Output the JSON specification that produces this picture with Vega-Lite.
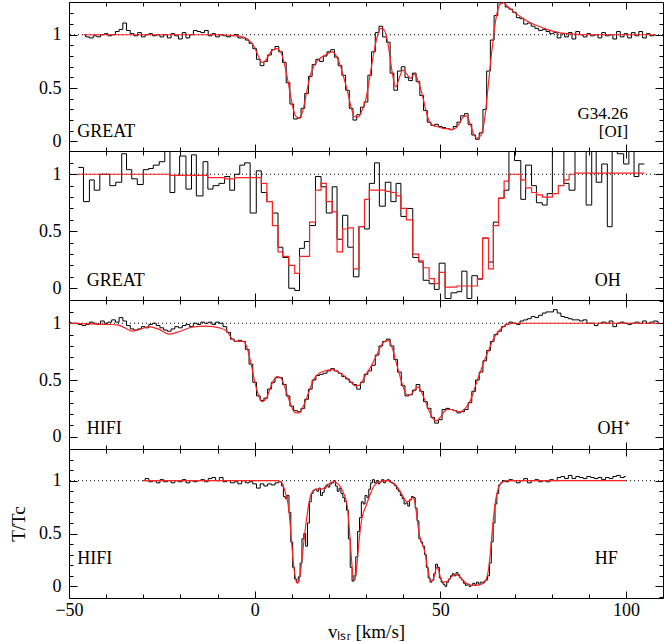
{
"$schema":"https://vega.github.io/schema/vega-lite/v6.json",
"padding":{"left":9,"top":1,"right":1,"bottom":2},
"spacing":0,
"bounds":"flush",
"config":{
 "view":{"stroke":"#000","strokeWidth":1},
 "axis":{"domain":false,"grid":false,"tickColor":"#000","tickWidth":1,"labelColor":"#000","titleColor":"#000","labelFont":"Liberation Serif","labelFontSize":18,"titleFont":"Liberation Serif","titleFontSize":19,"titleFontWeight":"normal","minExtent":0},
 "text":{"font":"Liberation Serif","fontSize":18,"color":"#000"}
},
"datasets":{
"o1":[{"v":-46,"t":1.0},{"v":-45,"t":0.98},{"v":-44,"t":0.97},{"v":-43,"t":0.99},{"v":-42,"t":0.98},{"v":-41,"t":1.0},{"v":-40,"t":1.01},{"v":-39,"t":0.99},{"v":-38,"t":1.0},{"v":-37,"t":1.03},{"v":-36,"t":1.05},{"v":-35,"t":1.11},{"v":-34,"t":1.04},{"v":-33,"t":1.01},{"v":-32,"t":0.99},{"v":-31,"t":1.02},{"v":-30,"t":0.98},{"v":-29,"t":1.0},{"v":-28,"t":1.01},{"v":-27,"t":0.99},{"v":-26,"t":1.0},{"v":-25,"t":0.98},{"v":-24,"t":1.0},{"v":-23,"t":0.97},{"v":-22,"t":1.01},{"v":-21,"t":0.99},{"v":-20,"t":0.96},{"v":-19,"t":1.02},{"v":-18,"t":0.97},{"v":-17,"t":1.0},{"v":-16,"t":1.04},{"v":-15,"t":1.03},{"v":-14,"t":1.02},{"v":-13,"t":1.04},{"v":-12,"t":0.99},{"v":-11,"t":1.01},{"v":-10,"t":0.98},{"v":-9,"t":1.0},{"v":-8,"t":0.99},{"v":-7,"t":0.98},{"v":-6,"t":0.99},{"v":-5,"t":1.0},{"v":-4,"t":0.97},{"v":-3,"t":0.97},{"v":-2,"t":0.95},{"v":-1,"t":0.92},{"v":0,"t":0.87},{"v":1,"t":0.77},{"v":2,"t":0.71},{"v":3,"t":0.75},{"v":4,"t":0.81},{"v":5,"t":0.86},{"v":6,"t":0.89},{"v":7,"t":0.84},{"v":8,"t":0.74},{"v":9,"t":0.55},{"v":10,"t":0.35},{"v":11,"t":0.21},{"v":12,"t":0.22},{"v":13,"t":0.31},{"v":14,"t":0.45},{"v":15,"t":0.61},{"v":16,"t":0.72},{"v":17,"t":0.77},{"v":18,"t":0.75},{"v":19,"t":0.8},{"v":20,"t":0.84},{"v":21,"t":0.86},{"v":22,"t":0.79},{"v":23,"t":0.71},{"v":24,"t":0.62},{"v":25,"t":0.48},{"v":26,"t":0.31},{"v":27,"t":0.2},{"v":28,"t":0.25},{"v":29,"t":0.32},{"v":30,"t":0.37},{"v":31,"t":0.62},{"v":32,"t":0.84},{"v":33,"t":1.02},{"v":34,"t":1.08},{"v":35,"t":0.98},{"v":36,"t":0.93},{"v":37,"t":0.64},{"v":38,"t":0.48},{"v":39,"t":0.66},{"v":40,"t":0.7},{"v":41,"t":0.6},{"v":42,"t":0.57},{"v":43,"t":0.64},{"v":44,"t":0.56},{"v":45,"t":0.43},{"v":46,"t":0.29},{"v":47,"t":0.18},{"v":48,"t":0.15},{"v":49,"t":0.16},{"v":50,"t":0.14},{"v":51,"t":0.13},{"v":52,"t":0.12},{"v":53,"t":0.11},{"v":54,"t":0.14},{"v":55,"t":0.18},{"v":56,"t":0.24},{"v":57,"t":0.26},{"v":58,"t":0.16},{"v":59,"t":0.06},{"v":60,"t":0.02},{"v":61,"t":0.08},{"v":62,"t":0.3},{"v":63,"t":0.66},{"v":64,"t":0.95},{"v":65,"t":1.18},{"v":66,"t":1.3},{"v":67,"t":1.3},{"v":68,"t":1.26},{"v":69,"t":1.24},{"v":70,"t":1.21},{"v":71,"t":1.16},{"v":72,"t":1.15},{"v":73,"t":1.1},{"v":74,"t":1.11},{"v":75,"t":1.08},{"v":76,"t":1.06},{"v":77,"t":1.04},{"v":78,"t":1.05},{"v":79,"t":1.03},{"v":80,"t":1.01},{"v":81,"t":1.02},{"v":82,"t":0.97},{"v":83,"t":1.01},{"v":84,"t":0.98},{"v":85,"t":1.02},{"v":86,"t":0.96},{"v":87,"t":1.03},{"v":88,"t":1.0},{"v":89,"t":0.98},{"v":90,"t":1.01},{"v":91,"t":0.99},{"v":92,"t":1.0},{"v":93,"t":0.97},{"v":94,"t":1.02},{"v":95,"t":0.99},{"v":96,"t":1.0},{"v":97,"t":0.96},{"v":98,"t":1.03},{"v":99,"t":0.98},{"v":100,"t":1.01},{"v":101,"t":0.97},{"v":102,"t":1.02},{"v":103,"t":0.99},{"v":104,"t":1.03},{"v":105,"t":0.97},{"v":106,"t":1.01},{"v":107,"t":0.99},{"v":108,"t":1.0}],
"m1":[{"v":-46,"t":1.0},{"v":-30,"t":1.0},{"v":-10,"t":1.0},{"v":-6,"t":0.995},{"v":-4,"t":0.985},{"v":-2,"t":0.96},{"v":-1,"t":0.93},{"v":0,"t":0.88},{"v":1,"t":0.8},{"v":2,"t":0.74},{"v":3,"t":0.76},{"v":4,"t":0.82},{"v":5,"t":0.86},{"v":6,"t":0.87},{"v":7,"t":0.84},{"v":8,"t":0.73},{"v":9,"t":0.56},{"v":10,"t":0.37},{"v":11,"t":0.24},{"v":12,"t":0.22},{"v":13,"t":0.29},{"v":14,"t":0.46},{"v":15,"t":0.62},{"v":16,"t":0.71},{"v":17,"t":0.76},{"v":18,"t":0.79},{"v":19,"t":0.81},{"v":20,"t":0.83},{"v":21,"t":0.84},{"v":22,"t":0.8},{"v":23,"t":0.72},{"v":24,"t":0.6},{"v":25,"t":0.47},{"v":26,"t":0.32},{"v":27,"t":0.23},{"v":28,"t":0.23},{"v":29,"t":0.3},{"v":30,"t":0.4},{"v":31,"t":0.6},{"v":32,"t":0.81},{"v":33,"t":0.98},{"v":34,"t":1.06},{"v":35,"t":1.04},{"v":36,"t":0.9},{"v":37,"t":0.66},{"v":38,"t":0.51},{"v":39,"t":0.6},{"v":40,"t":0.67},{"v":41,"t":0.63},{"v":42,"t":0.59},{"v":43,"t":0.63},{"v":44,"t":0.57},{"v":45,"t":0.46},{"v":46,"t":0.31},{"v":47,"t":0.19},{"v":48,"t":0.15},{"v":49,"t":0.14},{"v":50,"t":0.13},{"v":51,"t":0.12},{"v":52,"t":0.12},{"v":53,"t":0.11},{"v":54,"t":0.12},{"v":55,"t":0.16},{"v":56,"t":0.22},{"v":57,"t":0.24},{"v":58,"t":0.17},{"v":59,"t":0.07},{"v":60,"t":0.03},{"v":61,"t":0.06},{"v":62,"t":0.22},{"v":63,"t":0.55},{"v":64,"t":0.88},{"v":65,"t":1.15},{"v":66,"t":1.28},{"v":67,"t":1.3},{"v":68,"t":1.27},{"v":70,"t":1.21},{"v":72,"t":1.16},{"v":75,"t":1.1},{"v":78,"t":1.06},{"v":82,"t":1.02},{"v":86,"t":1.005},{"v":90,"t":1.0},{"v":108,"t":1.0}],
"o2":[{"v":-47.5,"t":1.06},{"v":-46.1,"t":0.76},{"v":-44.5,"t":0.95},{"v":-43.2,"t":0.86},{"v":-41.7,"t":1.0},{"v":-39.0,"t":0.9},{"v":-37.4,"t":0.93},{"v":-35.8,"t":1.18},{"v":-34.5,"t":1.04},{"v":-33.1,"t":0.96},{"v":-31.6,"t":0.91},{"v":-30.0,"t":1.04},{"v":-28.6,"t":1.05},{"v":-27.3,"t":1.08},{"v":-25.7,"t":1.11},{"v":-24.2,"t":1.3},{"v":-22.8,"t":0.84},{"v":-21.5,"t":0.99},{"v":-20.2,"t":1.16},{"v":-18.5,"t":0.87},{"v":-17.0,"t":1.17},{"v":-15.7,"t":0.81},{"v":-13.9,"t":1.11},{"v":-12.6,"t":0.87},{"v":-11.2,"t":0.9},{"v":-9.6,"t":0.92},{"v":-8.1,"t":0.98},{"v":-6.7,"t":0.86},{"v":-5.4,"t":1.0},{"v":-4.0,"t":1.08},{"v":-2.7,"t":1.1},{"v":-1.2,"t":0.66},{"v":0.45,"t":1.03},{"v":1.8,"t":0.84},{"v":3.3,"t":0.76},{"v":4.8,"t":0.66},{"v":6.3,"t":0.36},{"v":7.6,"t":0.27},{"v":9.2,"t":0.0},{"v":10.8,"t":-0.02},{"v":12.1,"t":0.35},{"v":13.4,"t":0.41},{"v":14.8,"t":0.55},{"v":16.4,"t":0.98},{"v":17.9,"t":0.89},{"v":19.3,"t":0.66},{"v":20.9,"t":0.89},{"v":22.2,"t":0.43},{"v":23.7,"t":0.64},{"v":25.1,"t":0.36},{"v":26.6,"t":0.1},{"v":28.1,"t":0.54},{"v":29.6,"t":0.52},{"v":30.9,"t":0.92},{"v":32.3,"t":1.1},{"v":33.6,"t":0.72},{"v":35.2,"t":0.93},{"v":36.7,"t":0.76},{"v":38.1,"t":0.92},{"v":39.4,"t":0.63},{"v":40.9,"t":0.7},{"v":42.6,"t":0.27},{"v":44.2,"t":0.23},{"v":45.4,"t":0.07},{"v":47.0,"t":0.04},{"v":48.4,"t":-0.01},{"v":49.7,"t":0.22},{"v":51.3,"t":-0.09},{"v":52.9,"t":-0.04},{"v":54.5,"t":-0.03},{"v":55.8,"t":0.15},{"v":57.2,"t":-0.09},{"v":58.5,"t":0.11},{"v":60.0,"t":0.08},{"v":61.4,"t":0.44},{"v":63.0,"t":0.23},{"v":64.3,"t":0.58},{"v":65.7,"t":0.79},{"v":67.2,"t":0.86},{"v":68.5,"t":1.3},{"v":70.0,"t":1.12},{"v":71.7,"t":0.78},{"v":73.0,"t":1.08},{"v":74.6,"t":0.9},{"v":75.9,"t":0.75},{"v":77.5,"t":0.73},{"v":78.8,"t":0.83},{"v":80.2,"t":1.3},{"v":81.8,"t":1.3},{"v":83.3,"t":0.92},{"v":84.7,"t":0.86},{"v":86.3,"t":1.2},{"v":87.8,"t":1.3},{"v":89.3,"t":0.73},{"v":90.8,"t":1.3},{"v":92.0,"t":0.93},{"v":93.5,"t":1.09},{"v":95.0,"t":0.54},{"v":96.3,"t":1.3},{"v":97.7,"t":1.18},{"v":99.4,"t":1.09},{"v":100.8,"t":1.3},{"v":102.2,"t":0.98},{"v":103.5,"t":1.09},{"v":105.0,"t":1.09}],
"m2":[{"v":-47.5,"t":1.0},{"v":-22.8,"t":0.99},{"v":-12.6,"t":0.97},{"v":-8.1,"t":0.96},{"v":-5.4,"t":0.97},{"v":0.45,"t":0.97},{"v":1.8,"t":0.92},{"v":3.3,"t":0.76},{"v":4.8,"t":0.55},{"v":6.3,"t":0.32},{"v":7.6,"t":0.28},{"v":9.2,"t":0.2},{"v":10.8,"t":0.13},{"v":12.1,"t":0.28},{"v":13.4,"t":0.28},{"v":14.8,"t":0.58},{"v":16.4,"t":0.86},{"v":17.9,"t":0.92},{"v":19.3,"t":0.76},{"v":20.9,"t":0.67},{"v":22.2,"t":0.32},{"v":23.7,"t":0.52},{"v":25.1,"t":0.53},{"v":26.6,"t":0.17},{"v":28.1,"t":0.54},{"v":29.6,"t":0.78},{"v":30.9,"t":0.86},{"v":32.3,"t":0.86},{"v":33.6,"t":0.86},{"v":35.2,"t":0.85},{"v":36.7,"t":0.84},{"v":38.1,"t":0.81},{"v":39.4,"t":0.7},{"v":40.9,"t":0.6},{"v":42.6,"t":0.3},{"v":44.2,"t":0.24},{"v":45.4,"t":0.18},{"v":47.0,"t":0.085},{"v":48.4,"t":0.04},{"v":49.7,"t":0.14},{"v":51.3,"t":0.01},{"v":52.9,"t":0.01},{"v":54.5,"t":0.02},{"v":55.8,"t":0.02},{"v":57.2,"t":0.02},{"v":58.5,"t":0.02},{"v":60.0,"t":0.085},{"v":61.4,"t":0.44},{"v":63.0,"t":0.17},{"v":64.3,"t":0.55},{"v":65.7,"t":0.79},{"v":67.2,"t":0.94},{"v":68.5,"t":1.0},{"v":70.0,"t":1.0},{"v":71.7,"t":0.95},{"v":73.0,"t":0.88},{"v":74.6,"t":0.84},{"v":75.9,"t":0.82},{"v":77.5,"t":0.8},{"v":78.8,"t":0.8},{"v":80.2,"t":0.83},{"v":81.8,"t":0.9},{"v":83.3,"t":0.95},{"v":84.7,"t":1.0},{"v":86.3,"t":1.01},{"v":105.0,"t":1.01}],
"o3":[{"v":-50,"t":1.01},{"v":-49,"t":1.0},{"v":-48,"t":1.0},{"v":-47,"t":0.99},{"v":-46,"t":0.98},{"v":-45,"t":0.99},{"v":-44,"t":1.01},{"v":-43,"t":1.0},{"v":-42,"t":0.99},{"v":-41,"t":1.02},{"v":-40,"t":1.0},{"v":-39,"t":1.01},{"v":-38,"t":1.03},{"v":-37,"t":1.01},{"v":-36,"t":1.05},{"v":-35,"t":1.02},{"v":-34,"t":0.98},{"v":-33,"t":0.95},{"v":-32,"t":0.94},{"v":-31,"t":0.95},{"v":-30,"t":0.97},{"v":-29,"t":0.96},{"v":-28,"t":0.99},{"v":-27,"t":1.0},{"v":-26,"t":0.98},{"v":-25,"t":0.96},{"v":-24,"t":0.94},{"v":-23,"t":0.93},{"v":-22,"t":0.95},{"v":-21,"t":0.97},{"v":-20,"t":0.96},{"v":-19,"t":0.98},{"v":-18,"t":0.99},{"v":-17,"t":0.97},{"v":-16,"t":1.0},{"v":-15,"t":0.99},{"v":-14,"t":1.01},{"v":-13,"t":1.0},{"v":-12,"t":1.01},{"v":-11,"t":0.99},{"v":-10,"t":1.01},{"v":-9,"t":1.0},{"v":-8,"t":0.97},{"v":-7,"t":0.92},{"v":-6,"t":0.86},{"v":-5,"t":0.84},{"v":-4,"t":0.85},{"v":-3,"t":0.84},{"v":-2,"t":0.77},{"v":-1,"t":0.64},{"v":0,"t":0.48},{"v":1,"t":0.36},{"v":2,"t":0.32},{"v":3,"t":0.34},{"v":4,"t":0.42},{"v":5,"t":0.48},{"v":6,"t":0.52},{"v":7,"t":0.52},{"v":8,"t":0.46},{"v":9,"t":0.36},{"v":10,"t":0.27},{"v":11,"t":0.23},{"v":12,"t":0.22},{"v":13,"t":0.25},{"v":14,"t":0.33},{"v":15,"t":0.42},{"v":16,"t":0.5},{"v":17,"t":0.54},{"v":18,"t":0.55},{"v":19,"t":0.56},{"v":20,"t":0.58},{"v":21,"t":0.6},{"v":22,"t":0.58},{"v":23,"t":0.56},{"v":24,"t":0.53},{"v":25,"t":0.51},{"v":26,"t":0.48},{"v":27,"t":0.46},{"v":28,"t":0.42},{"v":29,"t":0.48},{"v":30,"t":0.55},{"v":31,"t":0.58},{"v":32,"t":0.63},{"v":33,"t":0.72},{"v":34,"t":0.8},{"v":35,"t":0.84},{"v":36,"t":0.86},{"v":37,"t":0.8},{"v":38,"t":0.68},{"v":39,"t":0.57},{"v":40,"t":0.45},{"v":41,"t":0.36},{"v":42,"t":0.37},{"v":43,"t":0.41},{"v":44,"t":0.46},{"v":45,"t":0.4},{"v":46,"t":0.31},{"v":47,"t":0.25},{"v":48,"t":0.17},{"v":49,"t":0.12},{"v":50,"t":0.15},{"v":51,"t":0.24},{"v":52,"t":0.25},{"v":53,"t":0.24},{"v":54,"t":0.23},{"v":55,"t":0.21},{"v":56,"t":0.22},{"v":57,"t":0.24},{"v":58,"t":0.3},{"v":59,"t":0.4},{"v":60,"t":0.5},{"v":61,"t":0.57},{"v":62,"t":0.67},{"v":63,"t":0.76},{"v":64,"t":0.84},{"v":65,"t":0.9},{"v":66,"t":0.93},{"v":67,"t":0.97},{"v":68,"t":0.99},{"v":69,"t":1.01},{"v":70,"t":1.0},{"v":71,"t":0.99},{"v":72,"t":1.02},{"v":73,"t":1.03},{"v":74,"t":1.04},{"v":75,"t":1.06},{"v":76,"t":1.05},{"v":77,"t":1.07},{"v":78,"t":1.09},{"v":79,"t":1.1},{"v":80,"t":1.1},{"v":81,"t":1.12},{"v":82,"t":1.09},{"v":83,"t":1.06},{"v":84,"t":1.05},{"v":85,"t":1.04},{"v":86,"t":1.03},{"v":87,"t":1.03},{"v":88,"t":1.02},{"v":89,"t":1.03},{"v":90,"t":1.0},{"v":91,"t":1.0},{"v":92,"t":0.98},{"v":93,"t":1.0},{"v":94,"t":1.01},{"v":95,"t":1.0},{"v":96,"t":1.02},{"v":97,"t":0.97},{"v":98,"t":1.0},{"v":99,"t":1.01},{"v":100,"t":1.0},{"v":101,"t":0.99},{"v":102,"t":1.0},{"v":103,"t":1.01},{"v":104,"t":1.0},{"v":105,"t":1.02},{"v":106,"t":1.0},{"v":107,"t":1.01},{"v":108,"t":1.02},{"v":109,"t":1.01}],
"m3":[{"v":-50,"t":1.0},{"v":-44,"t":0.995},{"v":-40,"t":0.99},{"v":-37,"t":0.985},{"v":-35,"t":0.96},{"v":-33,"t":0.93},{"v":-31,"t":0.945},{"v":-28.5,"t":0.97},{"v":-26,"t":0.95},{"v":-23,"t":0.905},{"v":-20,"t":0.93},{"v":-17,"t":0.965},{"v":-13,"t":0.975},{"v":-9.5,"t":0.96},{"v":-7.5,"t":0.93},{"v":-6,"t":0.86},{"v":-5,"t":0.84},{"v":-3,"t":0.84},{"v":-2,"t":0.78},{"v":-1,"t":0.65},{"v":0,"t":0.49},{"v":1,"t":0.37},{"v":2,"t":0.31},{"v":3,"t":0.33},{"v":4,"t":0.41},{"v":5,"t":0.49},{"v":6,"t":0.53},{"v":7,"t":0.52},{"v":8,"t":0.45},{"v":9,"t":0.35},{"v":10,"t":0.26},{"v":11,"t":0.21},{"v":12,"t":0.21},{"v":13,"t":0.26},{"v":14,"t":0.34},{"v":15,"t":0.43},{"v":16,"t":0.51},{"v":17,"t":0.55},{"v":18,"t":0.57},{"v":19,"t":0.58},{"v":20,"t":0.59},{"v":21,"t":0.59},{"v":22,"t":0.58},{"v":23,"t":0.56},{"v":24,"t":0.54},{"v":25,"t":0.51},{"v":26,"t":0.48},{"v":27,"t":0.45},{"v":28,"t":0.45},{"v":29,"t":0.49},{"v":30,"t":0.55},{"v":31,"t":0.6},{"v":32,"t":0.66},{"v":33,"t":0.73},{"v":34,"t":0.8},{"v":35,"t":0.84},{"v":36,"t":0.85},{"v":37,"t":0.79},{"v":38,"t":0.67},{"v":39,"t":0.55},{"v":40,"t":0.44},{"v":41,"t":0.37},{"v":42,"t":0.37},{"v":43,"t":0.41},{"v":44,"t":0.44},{"v":45,"t":0.39},{"v":46,"t":0.31},{"v":47,"t":0.23},{"v":48,"t":0.16},{"v":49,"t":0.14},{"v":50,"t":0.17},{"v":51,"t":0.22},{"v":52,"t":0.24},{"v":53,"t":0.24},{"v":54,"t":0.23},{"v":55,"t":0.22},{"v":56,"t":0.23},{"v":57,"t":0.26},{"v":58,"t":0.31},{"v":59,"t":0.4},{"v":60,"t":0.5},{"v":61,"t":0.59},{"v":62,"t":0.68},{"v":63,"t":0.76},{"v":64,"t":0.84},{"v":65,"t":0.9},{"v":66,"t":0.94},{"v":67,"t":0.97},{"v":68,"t":0.99},{"v":70,"t":1.0},{"v":109,"t":1.0}],
"o4":[{"v":-30,"t":1.0},{"v":-29,"t":1.02},{"v":-28,"t":0.99},{"v":-27,"t":1.0},{"v":-26,"t":0.98},{"v":-25,"t":1.01},{"v":-24,"t":0.99},{"v":-23,"t":1.0},{"v":-22,"t":0.98},{"v":-21,"t":1.0},{"v":-20,"t":0.99},{"v":-19,"t":1.01},{"v":-18,"t":0.98},{"v":-17,"t":1.0},{"v":-16,"t":0.99},{"v":-15,"t":1.0},{"v":-14,"t":1.01},{"v":-13,"t":0.99},{"v":-12,"t":1.02},{"v":-11,"t":1.03},{"v":-10,"t":1.0},{"v":-9,"t":1.03},{"v":-8,"t":0.99},{"v":-7,"t":1.0},{"v":-6,"t":0.98},{"v":-5,"t":0.99},{"v":-4,"t":0.97},{"v":-3,"t":1.0},{"v":-2,"t":0.98},{"v":-1,"t":0.99},{"v":0,"t":0.97},{"v":1,"t":0.93},{"v":2,"t":0.97},{"v":3,"t":0.95},{"v":4,"t":0.97},{"v":5,"t":0.96},{"v":6,"t":0.98},{"v":7,"t":0.99},{"v":7.5,"t":0.95},{"v":8,"t":0.85},{"v":8.5,"t":0.83},{"v":9,"t":0.86},{"v":9.5,"t":0.7},{"v":10,"t":0.42},{"v":10.5,"t":0.18},{"v":11,"t":0.07},{"v":11.5,"t":0.04},{"v":12,"t":0.09},{"v":12.5,"t":0.22},{"v":13,"t":0.45},{"v":13.5,"t":0.5},{"v":14,"t":0.38},{"v":14.5,"t":0.6},{"v":15,"t":0.8},{"v":15.5,"t":0.88},{"v":16,"t":0.91},{"v":16.5,"t":0.92},{"v":17,"t":0.9},{"v":17.5,"t":0.93},{"v":18,"t":0.86},{"v":18.5,"t":0.89},{"v":19,"t":0.93},{"v":19.5,"t":0.96},{"v":20,"t":0.94},{"v":20.5,"t":0.97},{"v":21,"t":0.98},{"v":21.5,"t":1.0},{"v":22,"t":0.95},{"v":22.5,"t":0.9},{"v":23,"t":0.93},{"v":23.5,"t":0.88},{"v":24,"t":0.84},{"v":24.5,"t":0.8},{"v":25,"t":0.72},{"v":25.5,"t":0.45},{"v":26,"t":0.18},{"v":26.5,"t":0.05},{"v":27,"t":0.1},{"v":27.5,"t":0.28},{"v":28,"t":0.52},{"v":28.5,"t":0.65},{"v":29,"t":0.8},{"v":29.5,"t":0.78},{"v":30,"t":0.86},{"v":30.5,"t":0.84},{"v":31,"t":0.92},{"v":31.5,"t":0.98},{"v":32,"t":1.01},{"v":32.5,"t":0.98},{"v":33,"t":1.0},{"v":33.5,"t":0.97},{"v":34,"t":0.99},{"v":34.5,"t":1.01},{"v":35,"t":0.98},{"v":35.5,"t":1.0},{"v":36,"t":1.01},{"v":36.5,"t":0.99},{"v":37,"t":0.98},{"v":37.5,"t":0.97},{"v":38,"t":0.95},{"v":38.5,"t":0.92},{"v":39,"t":0.9},{"v":39.5,"t":0.86},{"v":40,"t":0.83},{"v":40.5,"t":0.78},{"v":41,"t":0.79},{"v":41.5,"t":0.76},{"v":42,"t":0.82},{"v":42.5,"t":0.85},{"v":43,"t":0.84},{"v":43.5,"t":0.74},{"v":44,"t":0.62},{"v":44.5,"t":0.45},{"v":45,"t":0.42},{"v":45.5,"t":0.38},{"v":46,"t":0.3},{"v":46.5,"t":0.18},{"v":47,"t":0.08},{"v":47.5,"t":0.04},{"v":48,"t":0.06},{"v":48.5,"t":0.12},{"v":49,"t":0.21},{"v":49.5,"t":0.18},{"v":50,"t":0.08},{"v":50.5,"t":0.04},{"v":51,"t":0.02},{"v":51.5,"t":0.0},{"v":52,"t":0.04},{"v":52.5,"t":0.07},{"v":53,"t":0.1},{"v":53.5,"t":0.12},{"v":54,"t":0.1},{"v":54.5,"t":0.13},{"v":55,"t":0.11},{"v":55.5,"t":0.08},{"v":56,"t":0.06},{"v":56.5,"t":0.03},{"v":57,"t":0.01},{"v":57.5,"t":0.02},{"v":58,"t":0.0},{"v":58.5,"t":0.01},{"v":59,"t":0.03},{"v":59.5,"t":0.02},{"v":60,"t":0.04},{"v":60.5,"t":0.02},{"v":61,"t":0.04},{"v":61.5,"t":0.03},{"v":62,"t":0.05},{"v":62.5,"t":0.06},{"v":63,"t":0.1},{"v":63.5,"t":0.22},{"v":64,"t":0.42},{"v":64.5,"t":0.6},{"v":65,"t":0.78},{"v":65.5,"t":0.88},{"v":66,"t":0.96},{"v":66.5,"t":0.98},{"v":67,"t":1.0},{"v":68,"t":0.99},{"v":69,"t":1.01},{"v":70,"t":1.0},{"v":71,"t":0.98},{"v":72,"t":1.0},{"v":73,"t":1.02},{"v":74,"t":0.98},{"v":75,"t":1.0},{"v":76,"t":1.01},{"v":77,"t":0.99},{"v":78,"t":1.0},{"v":79,"t":0.99},{"v":80,"t":1.01},{"v":81,"t":1.0},{"v":82,"t":1.03},{"v":83,"t":1.04},{"v":84,"t":1.02},{"v":85,"t":1.05},{"v":86,"t":1.02},{"v":87,"t":1.04},{"v":88,"t":1.03},{"v":89,"t":1.02},{"v":90,"t":1.04},{"v":91,"t":1.03},{"v":92,"t":1.02},{"v":93,"t":1.03},{"v":94,"t":1.01},{"v":95,"t":1.03},{"v":96,"t":1.02},{"v":97,"t":1.04},{"v":98,"t":1.05},{"v":99,"t":1.03},{"v":100,"t":1.04}],
"m4":[{"v":-30,"t":1.0},{"v":0,"t":1.0},{"v":6,"t":1.0},{"v":7,"t":0.99},{"v":7.5,"t":0.97},{"v":8,"t":0.92},{"v":8.5,"t":0.86},{"v":9,"t":0.78},{"v":9.5,"t":0.62},{"v":10,"t":0.4},{"v":10.5,"t":0.2},{"v":11,"t":0.08},{"v":11.5,"t":0.03},{"v":12,"t":0.06},{"v":12.5,"t":0.18},{"v":13,"t":0.34},{"v":13.5,"t":0.5},{"v":14,"t":0.64},{"v":14.5,"t":0.76},{"v":15,"t":0.85},{"v":15.5,"t":0.89},{"v":16,"t":0.91},{"v":17,"t":0.92},{"v":18,"t":0.92},{"v":19,"t":0.94},{"v":20,"t":0.97},{"v":21,"t":0.99},{"v":21.5,"t":0.995},{"v":22,"t":0.98},{"v":23,"t":0.95},{"v":24,"t":0.88},{"v":25,"t":0.75},{"v":25.5,"t":0.55},{"v":26,"t":0.3},{"v":26.5,"t":0.1},{"v":27,"t":0.06},{"v":27.5,"t":0.18},{"v":28,"t":0.38},{"v":28.5,"t":0.55},{"v":29,"t":0.66},{"v":30,"t":0.76},{"v":31,"t":0.86},{"v":32,"t":0.94},{"v":33,"t":0.98},{"v":34,"t":0.995},{"v":35,"t":1.0},{"v":36,"t":1.0},{"v":37,"t":0.985},{"v":38,"t":0.96},{"v":39,"t":0.91},{"v":40,"t":0.85},{"v":41,"t":0.8},{"v":42,"t":0.82},{"v":42.5,"t":0.84},{"v":43,"t":0.82},{"v":43.5,"t":0.72},{"v":44,"t":0.58},{"v":44.5,"t":0.47},{"v":45,"t":0.41},{"v":45.5,"t":0.37},{"v":46,"t":0.3},{"v":46.5,"t":0.19},{"v":47,"t":0.1},{"v":47.5,"t":0.05},{"v":48,"t":0.06},{"v":48.5,"t":0.11},{"v":49,"t":0.18},{"v":49.5,"t":0.16},{"v":50,"t":0.09},{"v":50.5,"t":0.05},{"v":51,"t":0.04},{"v":52,"t":0.05},{"v":53,"t":0.09},{"v":54,"t":0.11},{"v":55,"t":0.1},{"v":56,"t":0.06},{"v":57,"t":0.03},{"v":58,"t":0.015},{"v":59,"t":0.01},{"v":60,"t":0.01},{"v":61,"t":0.02},{"v":62,"t":0.04},{"v":62.5,"t":0.08},{"v":63,"t":0.16},{"v":63.5,"t":0.32},{"v":64,"t":0.52},{"v":64.5,"t":0.7},{"v":65,"t":0.83},{"v":65.5,"t":0.91},{"v":66,"t":0.96},{"v":67,"t":0.99},{"v":68,"t":1.0},{"v":100,"t":1.0}]
},
"vconcat":[
{"width":594,"height":149,
 "layer":[
  {"data":{"values":[{}]},"mark":{"type":"rule","strokeDash":[1,3],"color":"#000","strokeWidth":1},"encoding":{"y":{"datum":1,"type":"quantitative","scale":{"domain":[-0.09,1.307],"nice":false,"zero":false},"axis":null}}},
  {"data":{"name":"o1"},"mark":{"type":"line","interpolate":"step","color":"#000","strokeWidth":1,"clip":true},
   "encoding":{"x":{"field":"v","type":"quantitative","scale":{"domain":[-50,110],"nice":false,"zero":false},"axis":{"orient":"bottom","values":[-50,-40,-30,-20,-10,0,10,20,30,40,50,60,70,80,90,100],"labels":false,"title":null,"tickSize":-7,"tickDash":{"condition":{"test":"datum.value % 50 === 0","value":[]},"value":[4,100]}}},
     "y":{"field":"t","type":"quantitative","scale":{"domain":[-0.09,1.307],"nice":false,"zero":false},"axis":{"orient":"left","values":[0,0.1,0.2,0.3,0.4,0.5,0.6,0.7,0.8,0.9,1,1.1,1.2],"labelExpr":"datum.value === 1 ? '1' : datum.value === 0.5 ? '0.5' : datum.value === 0 ? '0' : ''","labelPadding":16,"labelFlush":false,"labelOverlap":false,"title":null,"tickSize":-8,"tickDash":{"condition":{"test":"datum.value === 0 || datum.value === 0.5 || datum.value === 1","value":[]},"value":[4,100]}}}}},
  {"data":{"name":"m1"},"mark":{"type":"line","interpolate":"monotone","color":"#ff2020","strokeWidth":1.2,"clip":true},
   "encoding":{"x":{"field":"v","type":"quantitative","scale":{"domain":[-50,110],"nice":false,"zero":false},"axis":{"orient":"top","values":[-50,-40,-30,-20,-10,0,10,20,30,40,50,60,70,80,90,100],"labels":false,"title":null,"tickSize":-7,"tickDash":{"condition":{"test":"datum.value % 50 === 0","value":[]},"value":[4,100]}}},
     "y":{"field":"t","type":"quantitative","scale":{"domain":[-0.09,1.307],"nice":false,"zero":false},"axis":{"orient":"right","values":[0,0.1,0.2,0.3,0.4,0.5,0.6,0.7,0.8,0.9,1,1.1,1.2],"labels":false,"title":null,"tickSize":-8,"tickDash":{"condition":{"test":"datum.value === 0 || datum.value === 0.5 || datum.value === 1","value":[]},"value":[4,100]}}}}},
  {"data":{"values":[{"v":-47.8,"t":0.09,"s":"GREAT"}]},"mark":{"type":"text","align":"left","baseline":"middle"},
   "encoding":{"x":{"field":"v","type":"quantitative","scale":{"domain":[-50,110],"nice":false,"zero":false},"axis":null},"y":{"field":"t","type":"quantitative","scale":{"domain":[-0.09,1.307],"nice":false,"zero":false},"axis":null},"text":{"field":"s"}}},
  {"data":{"values":[{"v":100.6,"t":0.26,"s":"G34.26"},{"v":100.6,"t":0.09,"s":"[OI]"}]},"mark":{"type":"text","align":"right","baseline":"middle","fontSize":17},
   "encoding":{"x":{"field":"v","type":"quantitative","scale":{"domain":[-50,110],"nice":false,"zero":false},"axis":null},"y":{"field":"t","type":"quantitative","scale":{"domain":[-0.09,1.307],"nice":false,"zero":false},"axis":null},"text":{"field":"s"}}}
 ],
 "resolve":{"axis":{"x":"independent","y":"independent"}}
},
{"width":594,"height":149,
 "layer":[
  {"data":{"values":[{}]},"mark":{"type":"rule","strokeDash":[1,3],"color":"#000","strokeWidth":1},"encoding":{"y":{"datum":1,"type":"quantitative","scale":{"domain":[-0.103,1.204],"nice":false,"zero":false},"axis":null}}},
  {"data":{"name":"o2"},"mark":{"type":"line","interpolate":"step-after","color":"#000","strokeWidth":1,"clip":true},
   "encoding":{"x":{"field":"v","type":"quantitative","scale":{"domain":[-50,110],"nice":false,"zero":false},"axis":{"orient":"bottom","values":[-50,-40,-30,-20,-10,0,10,20,30,40,50,60,70,80,90,100],"labels":false,"title":null,"tickSize":-7,"tickDash":{"condition":{"test":"datum.value % 50 === 0","value":[]},"value":[4,100]}}},
     "y":{"field":"t","type":"quantitative","scale":{"domain":[-0.103,1.204],"nice":false,"zero":false},"axis":{"orient":"left","values":[0,0.1,0.2,0.3,0.4,0.5,0.6,0.7,0.8,0.9,1,1.1],"labelExpr":"datum.value === 1 ? '1' : datum.value === 0.5 ? '0.5' : datum.value === 0 ? '0' : ''","labelPadding":16,"labelFlush":false,"labelOverlap":false,"title":null,"tickSize":-8,"tickDash":{"condition":{"test":"datum.value === 0 || datum.value === 0.5 || datum.value === 1","value":[]},"value":[4,100]}}}}},
  {"data":{"name":"m2"},"mark":{"type":"line","interpolate":"step-after","color":"#ff2020","strokeWidth":1.2,"clip":true},
   "encoding":{"x":{"field":"v","type":"quantitative","scale":{"domain":[-50,110],"nice":false,"zero":false},"axis":{"orient":"top","values":[-50,-40,-30,-20,-10,0,10,20,30,40,50,60,70,80,90,100],"labels":false,"title":null,"tickSize":-7,"tickDash":{"condition":{"test":"datum.value % 50 === 0","value":[]},"value":[4,100]}}},
     "y":{"field":"t","type":"quantitative","scale":{"domain":[-0.103,1.204],"nice":false,"zero":false},"axis":{"orient":"right","values":[-0.1,0,0.1,0.2,0.3,0.4,0.5,0.6,0.7,0.8,0.9,1,1.1,1.2],"labels":false,"title":null,"tickSize":-8,"tickDash":{"condition":{"test":"datum.value === 0 || datum.value === 0.5 || datum.value === 1","value":[]},"value":[4,100]}}}}},
  {"data":{"values":[{"v":-45.2,"t":0.064,"s":"GREAT"}]},"mark":{"type":"text","align":"left","baseline":"middle"},
   "encoding":{"x":{"field":"v","type":"quantitative","scale":{"domain":[-50,110],"nice":false,"zero":false},"axis":null},"y":{"field":"t","type":"quantitative","scale":{"domain":[-0.103,1.204],"nice":false,"zero":false},"axis":null},"text":{"field":"s"}}},
  {"data":{"values":[{"v":98.6,"t":0.064,"s":"OH"}]},"mark":{"type":"text","align":"right","baseline":"middle"},
   "encoding":{"x":{"field":"v","type":"quantitative","scale":{"domain":[-50,110],"nice":false,"zero":false},"axis":null},"y":{"field":"t","type":"quantitative","scale":{"domain":[-0.103,1.204],"nice":false,"zero":false},"axis":null},"text":{"field":"s"}}}
 ],
 "resolve":{"axis":{"x":"independent","y":"independent"}}
},
{"width":594,"height":149,
 "layer":[
  {"data":{"values":[{}]},"mark":{"type":"rule","strokeDash":[1,3],"color":"#000","strokeWidth":1},"encoding":{"y":{"datum":1,"type":"quantitative","scale":{"domain":[-0.108,1.205],"nice":false,"zero":false},"axis":null}}},
  {"data":{"name":"o3"},"mark":{"type":"line","interpolate":"step","color":"#000","strokeWidth":1,"clip":true},
   "encoding":{"x":{"field":"v","type":"quantitative","scale":{"domain":[-50,110],"nice":false,"zero":false},"axis":{"orient":"bottom","values":[-50,-40,-30,-20,-10,0,10,20,30,40,50,60,70,80,90,100],"labels":false,"title":null,"tickSize":-7,"tickDash":{"condition":{"test":"datum.value % 50 === 0","value":[]},"value":[4,100]}}},
     "y":{"field":"t","type":"quantitative","scale":{"domain":[-0.108,1.205],"nice":false,"zero":false},"axis":{"orient":"left","values":[0,0.1,0.2,0.3,0.4,0.5,0.6,0.7,0.8,0.9,1,1.1],"labelExpr":"datum.value === 1 ? '1' : datum.value === 0.5 ? '0.5' : datum.value === 0 ? '0' : ''","labelPadding":16,"labelFlush":false,"labelOverlap":false,"title":null,"tickSize":-8,"tickDash":{"condition":{"test":"datum.value === 0 || datum.value === 0.5 || datum.value === 1","value":[]},"value":[4,100]}}}}},
  {"data":{"name":"m3"},"mark":{"type":"line","interpolate":"monotone","color":"#ff2020","strokeWidth":1.2,"clip":true},
   "encoding":{"x":{"field":"v","type":"quantitative","scale":{"domain":[-50,110],"nice":false,"zero":false},"axis":{"orient":"top","values":[-50,-40,-30,-20,-10,0,10,20,30,40,50,60,70,80,90,100],"labels":false,"title":null,"tickSize":-7,"tickDash":{"condition":{"test":"datum.value % 50 === 0","value":[]},"value":[4,100]}}},
     "y":{"field":"t","type":"quantitative","scale":{"domain":[-0.108,1.205],"nice":false,"zero":false},"axis":{"orient":"right","values":[-0.1,0,0.1,0.2,0.3,0.4,0.5,0.6,0.7,0.8,0.9,1,1.1,1.2],"labels":false,"title":null,"tickSize":-8,"tickDash":{"condition":{"test":"datum.value === 0 || datum.value === 0.5 || datum.value === 1","value":[]},"value":[4,100]}}}}},
  {"data":{"values":[{"v":-45.2,"t":0.07,"s":"HIFI"}]},"mark":{"type":"text","align":"left","baseline":"middle"},
   "encoding":{"x":{"field":"v","type":"quantitative","scale":{"domain":[-50,110],"nice":false,"zero":false},"axis":null},"y":{"field":"t","type":"quantitative","scale":{"domain":[-0.108,1.205],"nice":false,"zero":false},"axis":null},"text":{"field":"s"}}},
  {"data":{"values":[{"v":101,"t":0.07,"s":"OH⁺"}]},"mark":{"type":"text","align":"right","baseline":"middle"},
   "encoding":{"x":{"field":"v","type":"quantitative","scale":{"domain":[-50,110],"nice":false,"zero":false},"axis":null},"y":{"field":"t","type":"quantitative","scale":{"domain":[-0.108,1.205],"nice":false,"zero":false},"axis":null},"text":{"field":"s"}}}
 ],
 "resolve":{"axis":{"x":"independent","y":"independent"}}
},
{"width":594,"height":149,
 "layer":[
  {"data":{"values":[{}]},"mark":{"type":"rule","strokeDash":[1,3],"color":"#000","strokeWidth":1},"encoding":{"y":{"datum":1,"type":"quantitative","scale":{"domain":[-0.11,1.3],"nice":false,"zero":false},"axis":null}}},
  {"data":{"name":"o4"},"mark":{"type":"line","interpolate":"step","color":"#000","strokeWidth":1,"clip":true},
   "encoding":{"x":{"field":"v","type":"quantitative","scale":{"domain":[-50,110],"nice":false,"zero":false},"axis":{"orient":"bottom","values":[-50,-40,-30,-20,-10,0,10,20,30,40,50,60,70,80,90,100],"labelExpr":"datum.value % 50 === 0 ? datum.label : ''","labelPadding":10,"labelFlush":false,"labelOverlap":false,"title":"vₗₛᵣ [km/s]","titlePadding":3,"tickSize":-7,"tickDash":{"condition":{"test":"datum.value % 50 === 0","value":[]},"value":[4,100]}}},
     "y":{"field":"t","type":"quantitative","scale":{"domain":[-0.11,1.3],"nice":false,"zero":false},"axis":{"orient":"left","values":[0,0.1,0.2,0.3,0.4,0.5,0.6,0.7,0.8,0.9,1,1.1,1.2],"labelExpr":"datum.value === 1 ? '1' : datum.value === 0.5 ? '0.5' : datum.value === 0 ? '0' : ''","labelPadding":16,"labelFlush":false,"labelOverlap":false,"title":"T/Tc","titlePadding":10,"tickSize":-8,"tickDash":{"condition":{"test":"datum.value === 0 || datum.value === 0.5 || datum.value === 1","value":[]},"value":[4,100]}}}}},
  {"data":{"name":"m4"},"mark":{"type":"line","interpolate":"monotone","color":"#ff2020","strokeWidth":1.2,"clip":true},
   "encoding":{"x":{"field":"v","type":"quantitative","scale":{"domain":[-50,110],"nice":false,"zero":false},"axis":{"orient":"top","values":[-50,-40,-30,-20,-10,0,10,20,30,40,50,60,70,80,90,100],"labels":false,"title":null,"tickSize":-7,"tickDash":{"condition":{"test":"datum.value % 50 === 0","value":[]},"value":[4,100]}}},
     "y":{"field":"t","type":"quantitative","scale":{"domain":[-0.11,1.3],"nice":false,"zero":false},"axis":{"orient":"right","values":[-0.1,0,0.1,0.2,0.3,0.4,0.5,0.6,0.7,0.8,0.9,1,1.1,1.2],"labels":false,"title":null,"tickSize":-8,"tickDash":{"condition":{"test":"datum.value === 0 || datum.value === 0.5 || datum.value === 1","value":[]},"value":[4,100]}}}}},
  {"data":{"values":[{"v":-47.8,"t":0.26,"s":"HIFI"}]},"mark":{"type":"text","align":"left","baseline":"middle"},
   "encoding":{"x":{"field":"v","type":"quantitative","scale":{"domain":[-50,110],"nice":false,"zero":false},"axis":null},"y":{"field":"t","type":"quantitative","scale":{"domain":[-0.11,1.3],"nice":false,"zero":false},"axis":null},"text":{"field":"s"}}},
  {"data":{"values":[{"v":97.8,"t":0.26,"s":"HF"}]},"mark":{"type":"text","align":"right","baseline":"middle"},
   "encoding":{"x":{"field":"v","type":"quantitative","scale":{"domain":[-50,110],"nice":false,"zero":false},"axis":null},"y":{"field":"t","type":"quantitative","scale":{"domain":[-0.11,1.3],"nice":false,"zero":false},"axis":null},"text":{"field":"s"}}}
 ],
 "resolve":{"axis":{"x":"independent","y":"independent"}}
}
]
}
